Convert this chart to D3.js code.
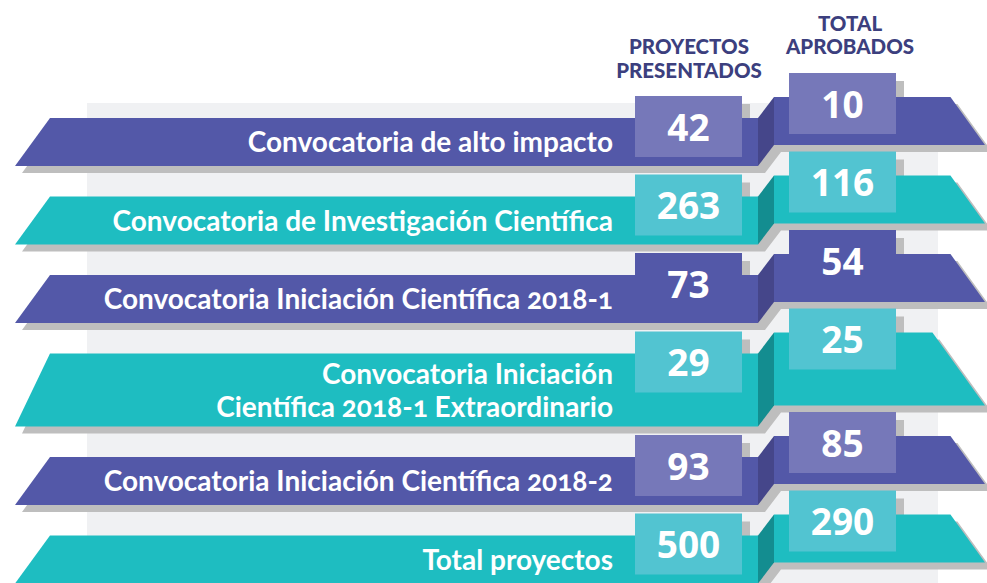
<!DOCTYPE html>
<html>
<head>
<meta charset="utf-8">
<script src="https://cdn.jsdelivr.net/npm/d3@7/dist/d3.min.js"></script>
<style>
  body { margin: 0; background: #fff; }
  svg { display: block; }
  .label { font-family: 'Lato', sans-serif; font-weight: 700; fill: #fff; font-variant-numeric: oldstyle-nums; }
  .value { font-family: 'Open Sans', sans-serif; font-weight: 700; fill: #fff; }
  .head { font-family: 'Lato', sans-serif; font-weight: 900; fill: #3c3f7e; }
</style>
</head>
<body>
<div id="chart"></div>
<script>
// data
const labels = [
  ['Convocatoria de alto impacto'],
  ['Convocatoria de Investigación Científica'],
  ['Convocatoria Iniciación Científica 2018-1'],
  ['Convocatoria Iniciación', 'Científica 2018-1 Extraordinario'],
  ['Convocatoria Iniciación Científica 2018-2'],
  ['Total proyectos']
];
const presentados = [42, 263, 73, 29, 93, 500];
const aprobados = [10, 116, 54, 25, 85, 290];
const headers = [['PROYECTOS', 'PRESENTADOS'], ['TOTAL', 'APROBADOS']];

const width = 987, height = 583;

// colours
const purple = {band: '#5358a8', side: '#45468a', box: '#7678b9'};
const teal = {band: '#1ebdc1', side: '#138d90', box: '#52c4d1'};
const shadow = '#bebebe';

// layout of rows (tall rows for two-line labels)
const rowH = n => n === 2 ? 73 : 48;
const gap = 30.5;
let rowTop = 118;
const rows = labels.map((l, i) => {
  const h = rowH(l.length);
  const r = {
    i, lines: l, h, top: rowTop,
    pres: presentados[i], apr: aprobados[i],
    col: i % 2 === 0 ? purple : teal,
    plainBox: i === 2
  };
  rowTop += h + gap;
  return r;
});

// horizontal positions
const L0 = 15, Lslant = 35, L1 = 758, R0 = 774, R1 = 985, rise = 21;
const boxW = 107, boxH = 61, boxL = 635, boxR = 789;

const svg = d3.select('#chart').append('svg')
  .attr('width', width)
  .attr('height', height);

// grey panel
svg.append('rect')
  .attr('x', 87).attr('y', 103)
  .attr('width', 851).attr('height', height - 103)
  .attr('fill', '#f0f1f3');

// whole ribbon shape: left band, side face, right band
function ribbon(d) {
  const t = d.top, b = d.top + d.h, rt = t - rise, rb = b - rise;
  const slant = d.h * 0.72;
  return [
    [L0 + Lslant, t], [L1, t], [R0, rt], [R1 - slant, rt], [R1, rb],
    [R0, rb], [L1, b], [L0, b]
  ];
}
const line = d3.line();

// ribbon shadows
svg.append('g').selectAll('path')
  .data(rows).join('path')
  .attr('d', d => line(ribbon(d)) + 'Z')
  .attr('transform', 'translate(7,7)')
  .attr('fill', shadow);

// box shadows
const boxes = rows.flatMap(d => [
  {row: d, x: boxL, y: d.top - 22, v: d.pres},
  {row: d, x: boxR, y: d.top - rise - 24, v: d.apr}
]);
svg.append('g').selectAll('rect')
  .data(boxes).join('rect')
  .attr('x', d => d.x + 8).attr('y', d => d.y + 8)
  .attr('width', boxW).attr('height', boxH)
  .attr('fill', shadow);

// bands
const band = svg.append('g').selectAll('g')
  .data(rows).join('g');

band.append('path')
  .attr('d', d => line([[L0 + Lslant, d.top], [L1, d.top], [L1, d.top + d.h], [L0, d.top + d.h]]) + 'Z')
  .attr('fill', d => d.col.band);

band.append('path')
  .attr('d', d => line([[L1, d.top], [R0, d.top - rise], [R0, d.top + d.h - rise], [L1, d.top + d.h]]) + 'Z')
  .attr('fill', d => d.col.side);

band.append('path')
  .attr('d', d => {
    const rt = d.top - rise, rb = d.top + d.h - rise, slant = d.h * 0.72;
    return line([[R0, rt], [R1 - slant, rt], [R1, rb], [R0, rb]]) + 'Z';
  })
  .attr('fill', d => d.col.band);

// labels
band.each(function(d) {
  const g = d3.select(this);
  const n = d.lines.length;
  d.lines.forEach((t, j) => {
    const base = d.top + d.h - (n === 2 ? 10 : 14) - (n - 1 - j) * 33;
    g.append('text')
      .attr('class', 'label')
      .attr('x', 613)
      .attr('y', base)
      .attr('text-anchor', 'end')
      .style('font-size', '28px')
      .text(t);
  });
});

// value boxes
const vb = svg.append('g').selectAll('g')
  .data(boxes).join('g');
vb.append('rect')
  .attr('x', d => d.x).attr('y', d => d.y)
  .attr('width', boxW).attr('height', boxH)
  .attr('fill', d => d.row.plainBox ? d.row.col.band : d.row.col.box);
vb.append('text')
  .attr('class', 'value')
  .attr('x', d => d.x + boxW / 2)
  .attr('y', d => d.y + boxH / 2 + 14)
  .attr('text-anchor', 'middle')
  .style('font-size', '37px')
  .text(d => d.v);

// column headers
const hx = [689, 850];
const hy = [[54, 78], [31, 54]];
headers.forEach((h, k) => {
  h.forEach((t, j) => {
    svg.append('text')
      .attr('class', 'head')
      .attr('x', hx[k]).attr('y', hy[k][j])
      .attr('text-anchor', 'middle')
      .style('font-size', '20.5px')
      .text(t);
  });
});
</script>
</body>
</html>
